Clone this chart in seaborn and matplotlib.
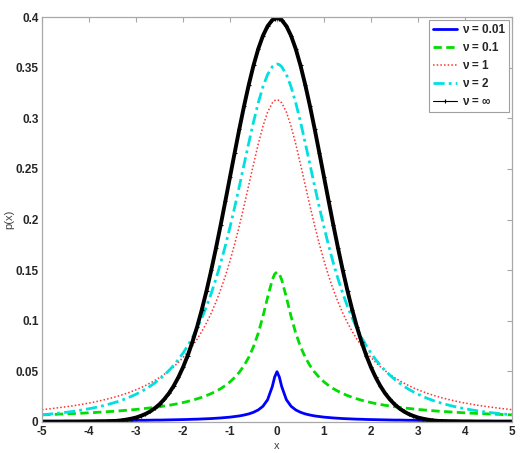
import matplotlib
matplotlib.use('Agg')
import matplotlib.pyplot as plt
import seaborn as sns
import pandas as pd

# x grid (extra points at +-0.05 to keep the sharp peaks)
x_vals = [
    -5.0, -4.9, -4.8, -4.7, -4.6, -4.5, -4.4, -4.3, -4.2, -4.1,
    -4.0, -3.9, -3.8, -3.7, -3.6, -3.5, -3.4, -3.3, -3.2, -3.1,
    -3.0, -2.9, -2.8, -2.7, -2.6, -2.5, -2.4, -2.3, -2.2, -2.1,
    -2.0, -1.9, -1.8, -1.7, -1.6, -1.5, -1.4, -1.3, -1.2, -1.1,
    -1.0, -0.9, -0.8, -0.7, -0.6, -0.5, -0.4, -0.3, -0.2, -0.1,
    -0.05, 0.0, 0.05,
    0.1, 0.2, 0.3, 0.4, 0.5, 0.6, 0.7, 0.8, 0.9, 1.0,
    1.1, 1.2, 1.3, 1.4, 1.5, 1.6, 1.7, 1.8, 1.9, 2.0,
    2.1, 2.2, 2.3, 2.4, 2.5, 2.6, 2.7, 2.8, 2.9, 3.0,
    3.1, 3.2, 3.3, 3.4, 3.5, 3.6, 3.7, 3.8, 3.9, 4.0,
    4.1, 4.2, 4.3, 4.4, 4.5, 4.6, 4.7, 4.8, 4.9, 5.0,
]

p_nu_001 = [
    0.0010, 0.0010, 0.0010, 0.0010, 0.0010, 0.0011, 0.0011, 0.0011, 0.0011, 0.0012,
    0.0012, 0.0012, 0.0013, 0.0013, 0.0013, 0.0014, 0.0014, 0.0015, 0.0015, 0.0015,
    0.0016, 0.0017, 0.0017, 0.0018, 0.0019, 0.0019, 0.0020, 0.0021, 0.0022, 0.0023,
    0.0024, 0.0025, 0.0027, 0.0028, 0.0030, 0.0032, 0.0034, 0.0037, 0.0040, 0.0044,
    0.0048, 0.0054, 0.0060, 0.0069, 0.0080, 0.0096, 0.0119, 0.0155, 0.0220, 0.0350,
    0.0444, 0.0497, 0.0444,
    0.0350, 0.0220, 0.0155, 0.0119, 0.0096, 0.0080, 0.0069, 0.0060, 0.0054, 0.0048,
    0.0044, 0.0040, 0.0037, 0.0034, 0.0032, 0.0030, 0.0028, 0.0027, 0.0025, 0.0024,
    0.0023, 0.0022, 0.0021, 0.0020, 0.0019, 0.0019, 0.0018, 0.0017, 0.0017, 0.0016,
    0.0015, 0.0015, 0.0015, 0.0014, 0.0014, 0.0013, 0.0013, 0.0013, 0.0012, 0.0012,
    0.0012, 0.0011, 0.0011, 0.0011, 0.0011, 0.0010, 0.0010, 0.0010, 0.0010, 0.0010,
]

p_nu_01 = [
    0.0071, 0.0072, 0.0074, 0.0076, 0.0078, 0.0080, 0.0082, 0.0084, 0.0086, 0.0088,
    0.0091, 0.0093, 0.0096, 0.0099, 0.0102, 0.0105, 0.0108, 0.0112, 0.0116, 0.0120,
    0.0124, 0.0129, 0.0134, 0.0139, 0.0145, 0.0151, 0.0158, 0.0165, 0.0173, 0.0182,
    0.0192, 0.0203, 0.0215, 0.0229, 0.0244, 0.0261, 0.0281, 0.0303, 0.0329, 0.0360,
    0.0396, 0.0440, 0.0493, 0.0558, 0.0640, 0.0744, 0.0876, 0.1041, 0.1231, 0.1405,
    0.1461, 0.1481, 0.1461,
    0.1405, 0.1231, 0.1041, 0.0876, 0.0744, 0.0640, 0.0558, 0.0493, 0.0440, 0.0396,
    0.0360, 0.0329, 0.0303, 0.0281, 0.0261, 0.0244, 0.0229, 0.0215, 0.0203, 0.0192,
    0.0182, 0.0173, 0.0165, 0.0158, 0.0151, 0.0145, 0.0139, 0.0134, 0.0129, 0.0124,
    0.0120, 0.0116, 0.0112, 0.0108, 0.0105, 0.0102, 0.0099, 0.0096, 0.0093, 0.0091,
    0.0088, 0.0086, 0.0084, 0.0082, 0.0080, 0.0078, 0.0076, 0.0074, 0.0072, 0.0071,
]

p_nu_1 = [
    0.0122, 0.0127, 0.0132, 0.0138, 0.0144, 0.0150, 0.0156, 0.0163, 0.0171, 0.0179,
    0.0187, 0.0196, 0.0206, 0.0217, 0.0228, 0.0240, 0.0253, 0.0268, 0.0283, 0.0300,
    0.0318, 0.0338, 0.0360, 0.0384, 0.0410, 0.0439, 0.0471, 0.0506, 0.0545, 0.0588,
    0.0637, 0.0690, 0.0751, 0.0818, 0.0894, 0.0979, 0.1075, 0.1183, 0.1305, 0.1440,
    0.1592, 0.1759, 0.1941, 0.2136, 0.2341, 0.2546, 0.2744, 0.2920, 0.3061, 0.3152,
    0.3175, 0.3183, 0.3175,
    0.3152, 0.3061, 0.2920, 0.2744, 0.2546, 0.2341, 0.2136, 0.1941, 0.1759, 0.1592,
    0.1440, 0.1305, 0.1183, 0.1075, 0.0979, 0.0894, 0.0818, 0.0751, 0.0690, 0.0637,
    0.0588, 0.0545, 0.0506, 0.0471, 0.0439, 0.0410, 0.0384, 0.0360, 0.0338, 0.0318,
    0.0300, 0.0283, 0.0268, 0.0253, 0.0240, 0.0228, 0.0217, 0.0206, 0.0196, 0.0187,
    0.0179, 0.0171, 0.0163, 0.0156, 0.0150, 0.0144, 0.0138, 0.0132, 0.0127, 0.0122,
]

p_nu_2 = [
    0.0071, 0.0075, 0.0080, 0.0085, 0.0090, 0.0095, 0.0101, 0.0108, 0.0115, 0.0123,
    0.0131, 0.0140, 0.0150, 0.0161, 0.0173, 0.0186, 0.0200, 0.0216, 0.0233, 0.0253,
    0.0274, 0.0298, 0.0324, 0.0353, 0.0386, 0.0422, 0.0463, 0.0508, 0.0559, 0.0616,
    0.0680, 0.0753, 0.0834, 0.0925, 0.1027, 0.1141, 0.1269, 0.1411, 0.1567, 0.1739,
    0.1925, 0.2123, 0.2331, 0.2545, 0.2758, 0.2963, 0.3150, 0.3310, 0.3432, 0.3509,
    0.3529, 0.3536, 0.3529,
    0.3509, 0.3432, 0.3310, 0.3150, 0.2963, 0.2758, 0.2545, 0.2331, 0.2123, 0.1925,
    0.1739, 0.1567, 0.1411, 0.1269, 0.1141, 0.1027, 0.0925, 0.0834, 0.0753, 0.0680,
    0.0616, 0.0559, 0.0508, 0.0463, 0.0422, 0.0386, 0.0353, 0.0324, 0.0298, 0.0274,
    0.0253, 0.0233, 0.0216, 0.0200, 0.0186, 0.0173, 0.0161, 0.0150, 0.0140, 0.0131,
    0.0123, 0.0115, 0.0108, 0.0101, 0.0095, 0.0090, 0.0085, 0.0080, 0.0075, 0.0071,
]

p_nu_inf = [
    0.0000, 0.0000, 0.0000, 0.0000, 0.0000, 0.0000, 0.0000, 0.0000, 0.0001, 0.0001,
    0.0001, 0.0002, 0.0003, 0.0004, 0.0006, 0.0009, 0.0012, 0.0017, 0.0024, 0.0033,
    0.0044, 0.0060, 0.0079, 0.0104, 0.0136, 0.0175, 0.0224, 0.0283, 0.0355, 0.0440,
    0.0540, 0.0656, 0.0790, 0.0940, 0.1109, 0.1295, 0.1497, 0.1714, 0.1942, 0.2179,
    0.2420, 0.2661, 0.2897, 0.3123, 0.3332, 0.3521, 0.3683, 0.3814, 0.3910, 0.3970,
    0.3984, 0.3989, 0.3984,
    0.3970, 0.3910, 0.3814, 0.3683, 0.3521, 0.3332, 0.3123, 0.2897, 0.2661, 0.2420,
    0.2179, 0.1942, 0.1714, 0.1497, 0.1295, 0.1109, 0.0940, 0.0790, 0.0656, 0.0540,
    0.0440, 0.0355, 0.0283, 0.0224, 0.0175, 0.0136, 0.0104, 0.0079, 0.0060, 0.0044,
    0.0033, 0.0024, 0.0017, 0.0012, 0.0009, 0.0006, 0.0004, 0.0003, 0.0002, 0.0001,
    0.0001, 0.0001, 0.0000, 0.0000, 0.0000, 0.0000, 0.0000, 0.0000, 0.0000, 0.0000,
]

labels = ['ν = 0.01', 'ν = 0.1', 'ν = 1', 'ν = 2', 'ν = ∞']
x_ticks = [-5, -4, -3, -2, -1, 0, 1, 2, 3, 4, 5]
x_tick_labels = ['-5', '-4', '-3', '-2', '-1', '0', '1', '2', '3', '4', '5']
y_ticks = [0, 0.05, 0.1, 0.15, 0.2, 0.25, 0.3, 0.35, 0.4]
y_tick_labels = ['0', '0.05', '0.1', '0.15', '0.2', '0.25', '0.3', '0.35', '0.4']

series = [p_nu_001, p_nu_01, p_nu_1, p_nu_2, p_nu_inf]
df = pd.DataFrame({
    'x': x_vals * len(series),
    'p': sum(series, []),
    'nu': sum([[lab] * len(x_vals) for lab in labels], []),
})

sns.set_style('white')
plt.rcParams['font.family'] = ['Liberation Sans', 'DejaVu Sans']

fig = plt.figure(figsize=(5.23, 4.53), dpi=100)
ax = fig.add_axes([42 / 523, 1 - 422 / 453, 470 / 523, 405 / 453])

styles = {
    'ν = 0.01': dict(color='#0000ff', linewidth=2.0, linestyle='-'),
    'ν = 0.1': dict(color='#00dd00', linewidth=2.0, linestyle=(0, (3, 1.6))),
    'ν = 1': dict(color='#ff3030', linewidth=1.1, linestyle=(0, (1, 1.4))),
    'ν = 2': dict(color='#00e0e0', linewidth=2.0, linestyle=(0, (4, 1.5, 1, 1.5))),
}

for lab in labels[:4]:
    sub = df[df['nu'] == lab]
    sns.lineplot(data=sub, x='x', y='p', ax=ax, label=lab, sort=False,
                 estimator=None, **styles[lab])

# normal curve: thick black band plus dense '+' markers
sub = df[df['nu'] == labels[4]]
sns.lineplot(data=sub, x='x', y='p', ax=ax, color='black', linewidth=2.8,
             sort=False, estimator=None)
sns.lineplot(data=sub, x='x', y='p', ax=ax, color='black', linewidth=0.8,
             marker='+', markersize=3, markeredgewidth=0.8,
             markeredgecolor='black', markerfacecolor='black',
             label=labels[4], sort=False, estimator=None)

ax.set_xlim(-5, 5)
ax.set_ylim(0, 0.4)
ax.set_xticks(x_ticks, x_tick_labels, fontsize=8.5, fontweight='bold')
ax.set_yticks(y_ticks, y_tick_labels, fontsize=8.5, fontweight='bold')
ax.tick_params(direction='in', length=3.5, width=0.8, color='#a8a8a8',
               top=True, right=True, pad=3)
ax.tick_params(axis='y', pad=2.5)
for sp in ax.spines.values():
    sp.set_visible(True)
    sp.set_color('#a8a8a8')
    sp.set_linewidth(0.9)

ax.set_xlabel('x', fontsize=8, color='#404040', labelpad=2)
ax.set_ylabel('p(x)', fontsize=8, color='#404040', labelpad=1)

leg = ax.legend(loc='upper right', bbox_to_anchor=(1, 1), borderaxespad=0.25,
                prop={'weight': 'bold', 'size': 8.5}, fancybox=False,
                framealpha=1, edgecolor='#a0a0a0', borderpad=0.35,
                labelspacing=0.5, handlelength=2.0, handletextpad=0.4)
leg.get_frame().set_linewidth(0.8)

fig.savefig('out.png', dpi=100)
